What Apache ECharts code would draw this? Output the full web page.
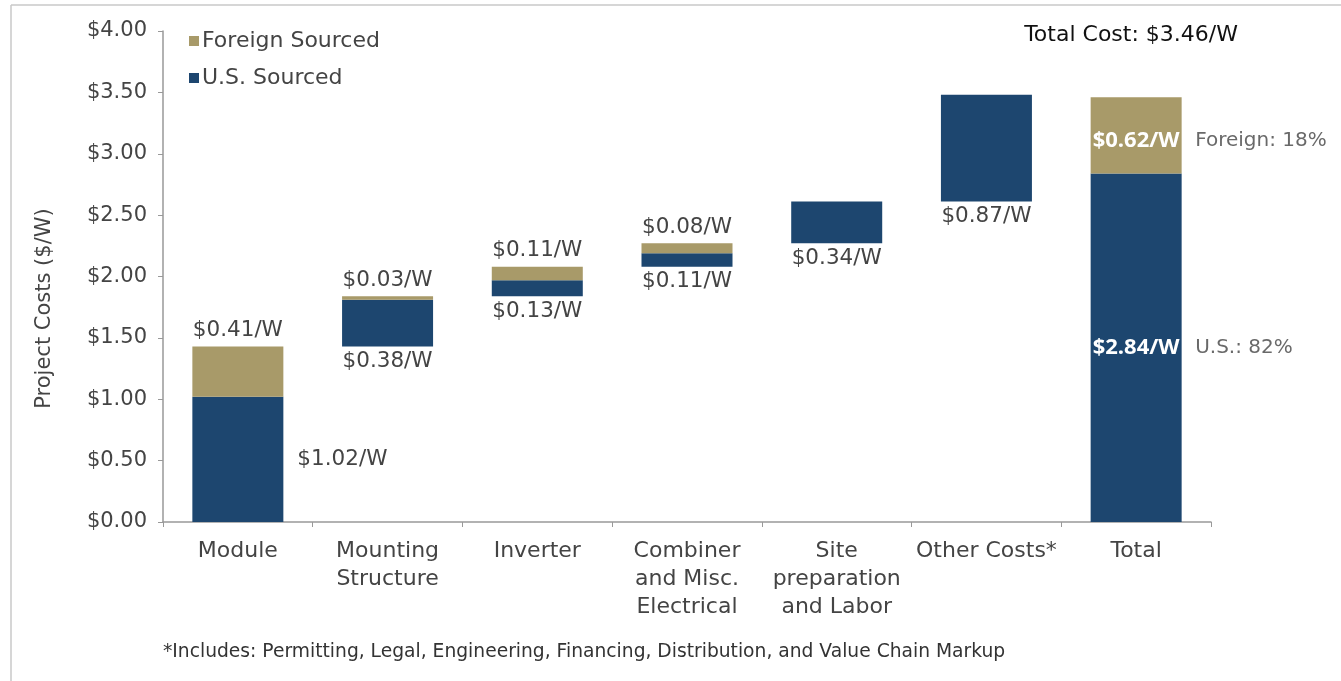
<!DOCTYPE html>
<html>
<head>
<meta charset="utf-8">
<script src="https://cdn.jsdelivr.net/npm/echarts@6/dist/echarts.min.js"></script>
<style>
  html, body { margin: 0; padding: 0; background: #fff; }
  #main { width: 1341px; height: 681px; }
</style>
</head>
<body>
<div id="main"></div>
<script>
// 分类和数值
var categories = ['Module', 'Mounting\nStructure', 'Inverter', 'Combiner\nand Misc.\nElectrical', 'Site\npreparation\nand Labor', 'Other Costs*', 'Total'];
var usValues = [1.02, 0.38, 0.13, 0.11, 0.34, 0.87, 2.84];
var foreignValues = [0.41, 0.03, 0.11, 0.08, 0, 0, 0.62];
var yTicks = [0, 0.5, 1, 1.5, 2, 2.5, 3, 3.5, 4];
var shareNotes = ['U.S.: 82%', 'Foreign: 18%'];
var totalText = 'Total Cost: $3.46/W';
var footnote = '*Includes: Permitting, Legal, Engineering, Financing, Distribution, and Value Chain Markup';

var navy = '#1d466f';
var tan = '#a89a69';
var textGray = '#444';
var fontName = '"DejaVu Sans", "Open Sans", sans-serif';
var boldFont = '"Open Sans", "Noto Sans", sans-serif';

// 瀑布图的底座：前面各项累加，最后一项从0开始
var baseValues = [];
var running = 0;
for (var i = 0; i < categories.length; i++) {
    if (i === categories.length - 1) {
        baseValues.push(0);
    } else {
        baseValues.push(Math.round(running * 100) / 100);
        running += usValues[i] + foreignValues[i];
    }
}
var lastIdx = categories.length - 1;

function money(v) {
    return '$' + v.toFixed(2) + '/W';
}

// 合计柱子里面的白色粗体
var insideLabel = { show: true, position: 'inside', color: '#fff', fontWeight: 'bold', fontFamily: boldFont, fontSize: 22 };

var usData = usValues.map(function (v, i) {
    var label;
    if (i === 0) {
        label = { show: true, position: 'right', distance: 14 };
    } else if (i === lastIdx) {
        label = insideLabel;
    } else {
        label = { show: true, position: 'bottom', distance: 4 };
    }
    return { value: v, label: label };
});
var foreignData = foreignValues.map(function (v, i) {
    var label;
    if (v === 0) {
        label = { show: false };
    } else if (i === lastIdx) {
        label = Object.assign({}, insideLabel, { offset: [0, 5] });
    } else {
        label = { show: true, position: 'top', distance: 5 };
    }
    return { value: v, label: label };
});

var notePoints = [
    { value: [categories[lastIdx], usValues[lastIdx] / 2], name: shareNotes[0] },
    { value: [categories[lastIdx], usValues[lastIdx] + foreignValues[lastIdx] / 2], name: shareNotes[1], label: { offset: [0, 5] } }
];

var myChart = echarts.init(document.getElementById('main'));
var option = {
    backgroundColor: '#fff',
    animation: false,
    textStyle: { fontFamily: fontName },
    title: {
        text: totalText,
        right: 98,
        top: 19,
        textStyle: { fontSize: 22, fontWeight: 'normal', color: '#111', fontFamily: fontName }
    },
    legend: {
        data: ['Foreign Sourced', 'U.S. Sourced'],
        orient: 'vertical',
        left: 184,
        top: 25,
        itemWidth: 10,
        itemHeight: 10,
        itemGap: 15,
        icon: 'rect',
        textStyle: { fontSize: 22, color: textGray, fontFamily: fontName, padding: [0, 0, 0, -2] }
    },
    grid: { left: 163, right: 130, top: 31, bottom: 159 },
    xAxis: {
        type: 'category',
        data: categories,
        axisLine: { lineStyle: { color: '#999', width: 1.5 } },
        axisTick: { show: true, length: 5, lineStyle: { color: '#999' } },
        axisLabel: { fontSize: 22, color: textGray, margin: 15, lineHeight: 28, interval: 0, fontFamily: fontName }
    },
    yAxis: {
        type: 'value',
        min: yTicks[0],
        max: yTicks[yTicks.length - 1],
        interval: yTicks[1] - yTicks[0],
        name: 'Project Costs ($/W)',
        nameLocation: 'middle',
        nameGap: 108,
        nameTextStyle: { fontSize: 21, color: textGray, fontFamily: fontName, padding: [0, 64, 0, 0] },
        axisLine: { show: true, lineStyle: { color: '#999', width: 1.5 } },
        axisTick: { show: true, length: 5, lineStyle: { color: '#999' } },
        splitLine: { show: false },
        axisLabel: {
            fontSize: 21, color: textGray, margin: 16, fontFamily: fontName,
            formatter: function (v) { return '$' + v.toFixed(2); }
        }
    },
    series: [
        {
            name: 'base',
            type: 'bar',
            stack: 'cost',
            barWidth: 91,
            itemStyle: { color: 'transparent' },
            emphasis: { disabled: true },
            data: baseValues
        },
        {
            name: 'U.S. Sourced',
            type: 'bar',
            stack: 'cost',
            barWidth: 91,
            itemStyle: { color: navy },
            label: { fontSize: 21.5, color: textGray, fontFamily: fontName, formatter: function (p) { return money(p.value); } },
            data: usData
        },
        {
            name: 'Foreign Sourced',
            type: 'bar',
            stack: 'cost',
            barWidth: 91,
            itemStyle: { color: tan },
            label: { fontSize: 21.5, color: textGray, fontFamily: fontName, formatter: function (p) { return money(p.value); } },
            data: foreignData
        },
        {
            name: 'notes',
            type: 'scatter',
            symbolSize: 0,
            label: {
                show: true,
                position: 'right',
                distance: 59,
                fontSize: 20,
                color: textGray,
                fontFamily: fontName,
                formatter: '{b}'
            },
            data: notePoints
        }
    ],
    graphic: [
        { type: 'line', shape: { x1: 11, y1: 5, x2: 1341, y2: 5 }, style: { stroke: '#c9c9c9', lineWidth: 1.5 } },
        { type: 'line', shape: { x1: 11, y1: 5, x2: 11, y2: 681 }, style: { stroke: '#c9c9c9', lineWidth: 1.5 } },
        {
            type: 'text', left: 163, top: 643,
            style: { text: footnote, fontSize: 18.7, fill: '#333', fontFamily: fontName }
        }
    ]
};
myChart.setOption(option);
</script>
</body>
</html>
